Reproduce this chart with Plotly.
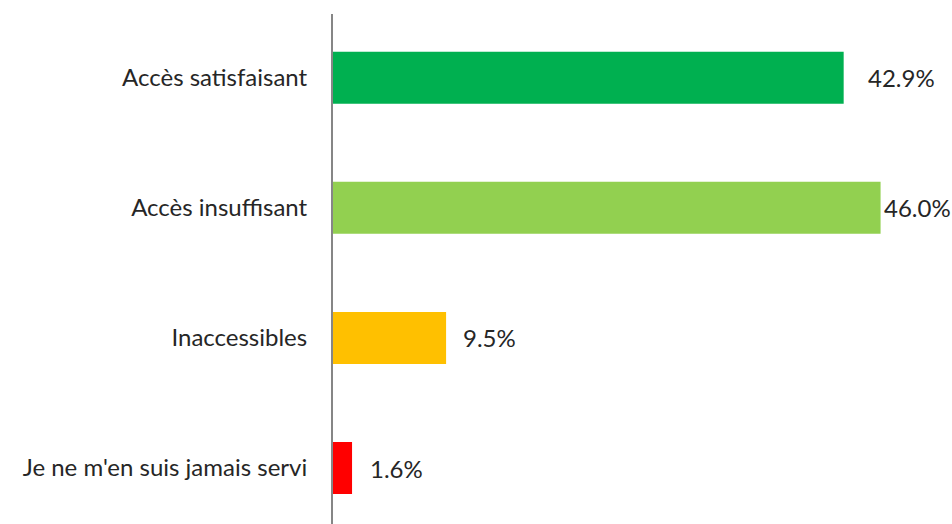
import plotly.graph_objects as go

categories = ["Accès satisfaisant", "Accès insuffisant", "Inaccessibles", "Je ne m'en suis jamais servi"]
values = [42.9, 46.0, 9.5, 1.6]
labels = ["42.9%", "46.0%", "9.5%", "1.6%"]
colors = ["#00B050", "#92D050", "#FFC000", "#FF0000"]
label_shift = [22, 1, 15, 16]

FONT = "Lato, Open Sans, sans-serif"
TXT = "#262626"
SIZE = 24

fig = go.Figure()
fig.add_trace(go.Bar(
    x=values, y=categories, orientation="h",
    marker=dict(color=colors, line=dict(width=0)),
    width=0.4, hoverinfo="skip",
))

for c, v, t, s in zip(categories, values, labels, label_shift):
    fig.add_annotation(x=v, y=c, text=t, showarrow=False, xanchor="left",
                       xshift=s, font=dict(family=FONT, size=SIZE, color=TXT))

fig.update_layout(
    width=952, height=524,
    margin=dict(l=333, r=0, t=14, b=0),
    paper_bgcolor="white", plot_bgcolor="white",
    showlegend=False,
    font=dict(family=FONT, size=SIZE, color=TXT),
    xaxis=dict(range=[0, 52], visible=False, showgrid=False, zeroline=False),
    yaxis=dict(
        type="category", categoryorder="array", categoryarray=categories,
        range=[3.43, -0.49], showgrid=False, zeroline=False,
        showline=True, linecolor="#868686", linewidth=2,
        ticks="", ticklabelstandoff=19,
        tickfont=dict(family=FONT, size=SIZE, color=TXT),
    ),
)

fig.write_html("out.html", config={"displayModeBar": False},
               post_script="document.body.style.margin='0';")
